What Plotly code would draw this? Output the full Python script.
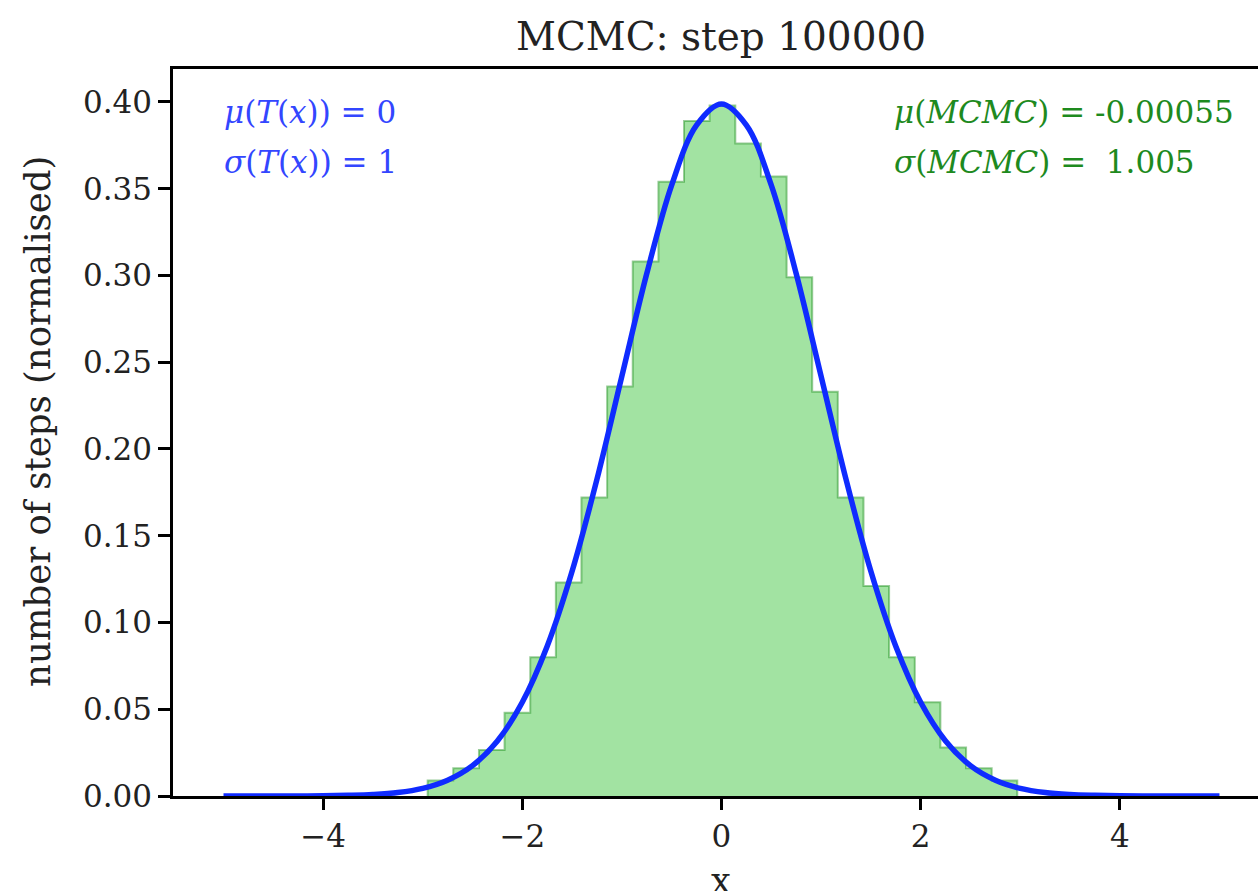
import plotly.graph_objects as go

# Histogram (normalised) of MCMC samples
bin_edges = [-2.950, -2.693, -2.435, -2.178, -1.920, -1.663, -1.406, -1.148,
             -0.891, -0.633, -0.376, -0.119, 0.139, 0.396, 0.654, 0.911,
             1.168, 1.426, 1.683, 1.941, 2.198, 2.456, 2.713, 2.970]
bin_heights = [0.009, 0.016, 0.0265, 0.048, 0.080, 0.123, 0.172, 0.236,
               0.308, 0.354, 0.389, 0.398, 0.376, 0.357, 0.299, 0.233,
               0.172, 0.121, 0.080, 0.054, 0.028, 0.016, 0.009]

# Target distribution T(x)
curve_x = [-5.0, -4.75, -4.5, -4.25, -4.0, -3.75, -3.5, -3.25, -3.0, -2.75,
           -2.5, -2.25, -2.0, -1.75, -1.5, -1.25, -1.0, -0.75, -0.5, -0.25,
           0.0, 0.25, 0.5, 0.75, 1.0, 1.25, 1.5, 1.75, 2.0, 2.25, 2.5, 2.75,
           3.0, 3.25, 3.5, 3.75, 4.0, 4.25, 4.5, 4.75, 5.0]
curve_y = [0.0, 0.0, 0.00002, 0.00005, 0.0001, 0.0004, 0.0009, 0.0020, 0.0044, 0.0091,
           0.0175, 0.0317, 0.0540, 0.0863, 0.1295, 0.1826, 0.2420, 0.3011, 0.3521, 0.3867,
           0.3989, 0.3867, 0.3521, 0.3011, 0.2420, 0.1826, 0.1295, 0.0863, 0.0540, 0.0317,
           0.0175, 0.0091, 0.0044, 0.0020, 0.0009, 0.0004, 0.0001, 0.00005, 0.00002, 0.0, 0.0]

x_ticks = [-4, -2, 0, 2, 4]
x_tick_text = ["\u22124", "\u22122", "0", "2", "4"]
y_ticks = [0.00, 0.05, 0.10, 0.15, 0.20, 0.25, 0.30, 0.35, 0.40]

title_text = "MCMC: step 100000"
x_label = "x"
y_label = "number of steps (normalised)"

FONT = "DejaVu Serif"

# step outline of histogram
step_x = [bin_edges[0]] + bin_edges
step_y = [0] + bin_heights + [0]

fig = go.Figure()
fig.add_trace(go.Scatter(
    x=step_x, y=step_y, mode="lines", line_shape="hv",
    fill="tozeroy", fillcolor="#a2e3a2",
    line=dict(color="rgba(0,128,0,0.40)", width=2),
    hoverinfo="skip", showlegend=False))
fig.add_trace(go.Scatter(
    x=curve_x, y=curve_y, mode="lines",
    line=dict(color="#0f2bff", width=5.5, shape="spline", smoothing=1.0),
    showlegend=False))

blue_txt = "#3346ff"
green_txt = "#1e8a1e"
ann_font = dict(family=FONT, size=31)
annotations = [
    dict(x=-5.02, y=0.3942, xref="x", yref="y", xanchor="left", yanchor="middle",
         text="<i>\u03bc</i>(<i>T</i>(<i>x</i>))\u00a0=\u00a00", showarrow=False,
         font=dict(color=blue_txt, **ann_font)),
    dict(x=-5.02, y=0.3654, xref="x", yref="y", xanchor="left", yanchor="middle",
         text="<i>\u03c3</i>(<i>T</i>(<i>x</i>))\u00a0=\u00a01", showarrow=False,
         font=dict(color=blue_txt, **ann_font)),
    dict(x=1.71, y=0.3942, xref="x", yref="y", xanchor="left", yanchor="middle",
         text="<i>\u03bc</i>(<i>MCMC</i>)\u00a0=\u00a0-0.00055", showarrow=False,
         font=dict(color=green_txt, **ann_font)),
    dict(x=1.71, y=0.3654, xref="x", yref="y", xanchor="left", yanchor="middle",
         text="<i>\u03c3</i>(<i>MCMC</i>)\u00a0=\u00a0\u00a01.005", showarrow=False,
         font=dict(color=green_txt, **ann_font)),
    dict(x=0, y=1.045, xref="x", yref="paper", xanchor="center", yanchor="middle",
         text=title_text, showarrow=False, font=dict(family=FONT, size=39, color="#222")),
    dict(x=0, y=-0.117, xref="x", yref="paper", xanchor="center", yanchor="middle",
         text=x_label, showarrow=False, font=dict(family=FONT, size=35, color="#222")),
    dict(x=-0.125, y=0.515, xref="paper", yref="paper", xanchor="center", yanchor="middle",
         text=y_label, textangle=-90, showarrow=False,
         font=dict(family=FONT, size=35.5, color="#222")),
]

fig.update_layout(
    width=1258, height=891,
    margin=dict(l=173, r=0, t=69, b=95),
    paper_bgcolor="white", plot_bgcolor="white",
    font=dict(family=FONT, size=31, color="#222"),
    annotations=annotations,
    showlegend=False,
)
fig.update_xaxes(
    range=[-5.507, 5.387], tickvals=x_ticks, ticktext=x_tick_text,
    showgrid=False, zeroline=False, showline=True, linecolor="black", linewidth=2.5,
    mirror=True, ticks="outside", ticklen=11, tickwidth=2.5, tickcolor="black",
    tickfont=dict(family=FONT, size=31, color="#222"))
fig.update_yaxes(
    range=[0, 0.419], tickvals=y_ticks, tickformat=".2f",
    showgrid=False, zeroline=False, showline=True, linecolor="black", linewidth=2.5,
    ticks="outside", ticklen=12, tickwidth=2.5, tickcolor="black",
    tickfont=dict(family=FONT, size=31, color="#222"))

fig.write_html("out.html")
